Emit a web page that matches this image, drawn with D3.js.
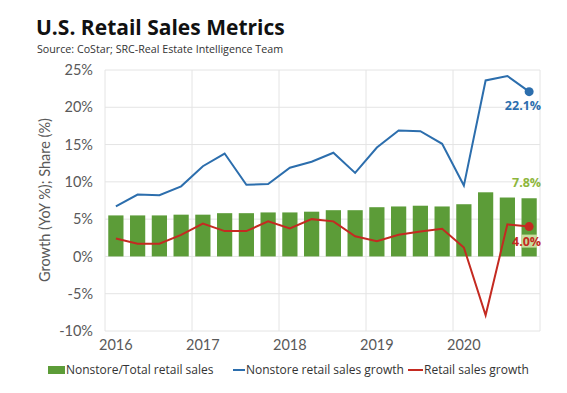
<!DOCTYPE html>
<html>
<head>
<meta charset="utf-8">
<script src="https://cdn.jsdelivr.net/npm/d3@7"></script>
<style>
  body { margin: 0; background: #fff; }
  text { font-family: "Open Sans", "Noto Sans", sans-serif; }
</style>
</head>
<body>
<svg id="chart" width="567" height="393"></svg>
<script>
// quarterly data, 2016 Q1 .. 2020 Q4
var quarters = ["2016Q1","2016Q2","2016Q3","2016Q4","2017Q1","2017Q2","2017Q3","2017Q4",
  "2018Q1","2018Q2","2018Q3","2018Q4","2019Q1","2019Q2","2019Q3","2019Q4",
  "2020Q1","2020Q2","2020Q3","2020Q4"];
var nonstoreShare = [5.5,5.5,5.5,5.6,5.6,5.8,5.8,5.9,5.9,6.0,6.2,6.2,6.6,6.7,6.8,6.7,7.0,8.6,7.9,7.8];
var nonstoreGrowth = [6.7,8.3,8.2,9.4,12.1,13.8,9.6,9.7,11.9,12.7,13.9,11.2,14.6,16.9,16.8,15.1,9.5,23.6,24.2,22.1];
var retailGrowth = [2.4,1.7,1.7,2.9,4.4,3.4,3.4,4.7,3.75,5.0,4.7,2.7,2.05,2.9,3.35,3.7,1.2,-7.9,4.3,4.0];
var yTicks = [25,20,15,10,5,0,-5,-10];
var yearLabels = ["2016","2017","2018","2019","2020"];

var green = "#5c9c38", greenLabel = "#8db63c", blue = "#2c6ead", red = "#c42a21";

var svg = d3.select("#chart");

var x = d3.scaleBand().domain(quarters).range([105, 540]).paddingInner(0.3).paddingOuter(0.15);
var y = d3.scaleLinear().domain([-10, 25]).range([331, 70]);

// title
svg.append("text").attr("x", 36).attr("y", 35)
  .style("font-size", "21px").style("font-weight", "700").attr("fill", "#111")
  .text("U.S. Retail Sales Metrics");
svg.append("text").attr("x", 37).attr("y", 53)
  .style("font-size", "10.7px").attr("fill", "#333")
  .text("Source: CoStar; SRC-Real Estate Intelligence Team");

// grid
var grid = svg.append("g");
grid.selectAll(".hg").data(yTicks).enter().append("line")
  .attr("x1", 105).attr("x2", 540)
  .attr("y1", d => y(d)).attr("y2", d => y(d))
  .attr("stroke", "#e4e4e4").attr("stroke-width", 1);
var vlines = [0,4,8,12,16,20];
grid.selectAll(".vg").data(vlines).enter().append("line")
  .attr("x1", d => 105 + d * (435 / 20)).attr("x2", d => 105 + d * (435 / 20))
  .attr("y1", y(25)).attr("y2", y(-10))
  .attr("stroke", "#e4e4e4").attr("stroke-width", 1);

// y axis labels
svg.selectAll(".yt").data(yTicks).enter().append("text")
  .attr("x", 93).attr("y", d => y(d)).attr("dy", "0.35em")
  .attr("text-anchor", "end")
  .style("font-family", "Lato, sans-serif").style("font-size", "14.5px")
  .attr("fill", "#595959").text(d => d + "%");

svg.append("text")
  .attr("transform", "translate(50,200) rotate(-90)")
  .attr("text-anchor", "middle")
  .style("font-family", "Lato, sans-serif").style("font-size", "14.5px")
  .attr("fill", "#595959").text("Growth (YoY %); Share (%)");

// x labels at Q1 of each year
svg.selectAll(".xt").data(yearLabels).enter().append("text")
  .attr("x", d => x(d + "Q1") + x.bandwidth() / 2)
  .attr("y", 350)
  .attr("text-anchor", "middle")
  .style("font-family", "Lato, sans-serif").style("font-size", "14.5px")
  .attr("fill", "#595959").text(d => d);

// bars
svg.selectAll(".bar").data(nonstoreShare).enter().append("rect")
  .attr("x", (d, i) => x(quarters[i]))
  .attr("width", x.bandwidth())
  .attr("y", d => y(d))
  .attr("height", d => y(0) - y(d))
  .attr("fill", green);

var line = d3.line()
  .x((d, i) => x(quarters[i]) + x.bandwidth() / 2)
  .y(d => y(d));

svg.append("path").datum(nonstoreGrowth).attr("d", line)
  .attr("fill", "none").attr("stroke", blue).attr("stroke-width", 2);
svg.append("path").datum(retailGrowth).attr("d", line)
  .attr("fill", "none").attr("stroke", red).attr("stroke-width", 2);

var last = quarters.length - 1;
var lx = x(quarters[last]) + x.bandwidth() / 2;

svg.append("circle").attr("cx", lx).attr("cy", y(nonstoreGrowth[last])).attr("r", 4.5).attr("fill", blue);
svg.append("circle").attr("cx", lx).attr("cy", y(retailGrowth[last])).attr("r", 4.5).attr("fill", red);

// end labels
svg.append("text").attr("x", lx + 12).attr("y", y(nonstoreGrowth[last]) + 18)
  .attr("text-anchor", "end").style("font-size", "12.5px").style("font-weight", "700")
  .attr("fill", blue).text(nonstoreGrowth[last].toFixed(1) + "%");
svg.append("text").attr("x", lx + 12).attr("y", y(nonstoreShare[last]) - 11)
  .attr("text-anchor", "end").style("font-size", "12.5px").style("font-weight", "700")
  .attr("fill", greenLabel).text(nonstoreShare[last].toFixed(1) + "%");
svg.append("rect").attr("x", lx - 8).attr("y", y(retailGrowth[last]) + 8)
  .attr("width", 16).attr("height", 13).attr("fill", "#c7dc9e");
svg.append("text").attr("x", lx + 12).attr("y", y(retailGrowth[last]) + 19)
  .attr("text-anchor", "end").style("font-size", "12.5px").style("font-weight", "700")
  .attr("fill", red).text(retailGrowth[last].toFixed(1) + "%");

// legend
var lg = svg.append("g").style("font-size", "12px");
lg.append("rect").attr("x", 48).attr("y", 366).attr("width", 17).attr("height", 8).attr("fill", green);
lg.append("text").attr("x", 66).attr("y", 370).attr("dy", "0.35em").attr("fill", "#333").text("Nonstore/Total retail sales");
lg.append("line").attr("x1", 233).attr("x2", 245).attr("y1", 370).attr("y2", 370).attr("stroke", blue).attr("stroke-width", 2);
lg.append("text").attr("x", 246).attr("y", 370).attr("dy", "0.35em").attr("fill", "#333").text("Nonstore retail sales growth");
lg.append("line").attr("x1", 408).attr("x2", 423).attr("y1", 370).attr("y2", 370).attr("stroke", red).attr("stroke-width", 2);
lg.append("text").attr("x", 424).attr("y", 370).attr("dy", "0.35em").attr("fill", "#333").text("Retail sales growth");
</script>
</body>
</html>
